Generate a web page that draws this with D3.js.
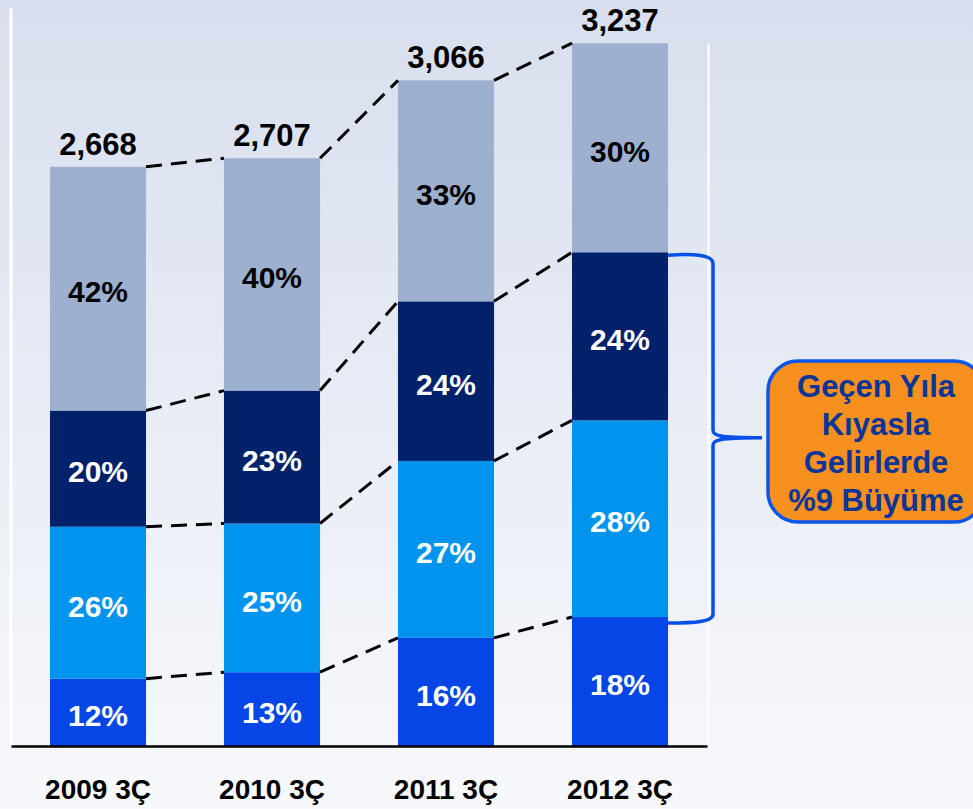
<!DOCTYPE html>
<html>
<head>
<meta charset="utf-8">
<script src="https://cdn.jsdelivr.net/npm/d3@7"></script>
<style>
	body { margin: 0; overflow: hidden; }
	svg { display: block; font-family: 'Liberation Sans', Arial, sans-serif; }
</style>
</head>
<body>
<div class="svg-container"></div>
<script>
const w = 973;
const h = 809;

// values (stack order bottom -> top)
const quarters = ['2009 3Ç', '2010 3Ç', '2011 3Ç', '2012 3Ç'];
const totals = [2668, 2707, 3066, 3237];
const segBlue = [310, 340, 498, 594];
const segLight = [700, 685, 815, 906];
const segNavy = [535, 612, 735, 774];
const segGray = [1123, 1070, 1018, 963];
const calloutLines = ['Geçen Yıla', 'Kıyasla', 'Gelirlerde', '%9 Büyüme'];

const colors = ['#0646e6', '#0094ee', '#01216a', '#9db0cf'];
const labelColors = ['#fff', '#fff', '#fff', '#000'];

const series = [segBlue, segLight, segNavy, segGray];

const svg = d3
	.select('.svg-container')
	.append('svg')
	.attr('width', w)
	.attr('height', h);

// background gradient
const grad = svg
	.append('defs')
	.append('linearGradient')
	.attr('id', 'bg')
	.attr('x1', 0)
	.attr('y1', 0)
	.attr('x2', 0)
	.attr('y2', 1);
grad.append('stop').attr('offset', '0%').attr('stop-color', '#d7dfee');
grad.append('stop').attr('offset', '100%').attr('stop-color', '#f8f9fc');

svg.append('rect').attr('width', w).attr('height', h).attr('fill', 'url(#bg)');

const xScale = d3
	.scaleBand()
	.domain(quarters)
	.range([11, 707])
	.paddingInner(0.448)
	.paddingOuter(0.224);

const yScale = d3.scaleLinear().domain([0, 3436]).range([746, 0]);

// stack rows
const rows = quarters.map((q, i) => {
	let acc = 0;
	return series.map((s, k) => {
		const y0 = acc;
		acc += s[i];
		return {q, k, y0, y1: acc, pct: Math.round((s[i] / totals[i]) * 100)};
	});
});

// white frame lines
svg
	.append('line')
	.attr('x1', 11)
	.attr('x2', 11)
	.attr('y1', 8)
	.attr('y2', 746)
	.attr('stroke', '#fff')
	.attr('stroke-width', 3);
svg
	.append('line')
	.attr('x1', 708.5)
	.attr('x2', 708.5)
	.attr('y1', yScale(totals[3]))
	.attr('y2', 746)
	.attr('stroke', '#fff')
	.attr('stroke-width', 2);

// segments
const segs = rows.flat();
svg
	.selectAll('rect.seg')
	.data(segs)
	.enter()
	.append('rect')
	.attr('class', 'seg')
	.attr('x', d => xScale(d.q))
	.attr('width', xScale.bandwidth())
	.attr('y', d => yScale(d.y1))
	.attr('height', d => yScale(d.y0) - yScale(d.y1))
	.attr('fill', d => colors[d.k]);

// dashed connectors between bars
const connectors = [];
for (let i = 0; i < quarters.length - 1; i++) {
	rows[i].forEach((d, k) => {
		connectors.push({
			x1: xScale(quarters[i]) + xScale.bandwidth(),
			y1: yScale(d.y1),
			x2: xScale(quarters[i + 1]),
			y2: yScale(rows[i + 1][k].y1),
		});
	});
}
svg
	.selectAll('line.conn')
	.data(connectors)
	.enter()
	.append('line')
	.attr('class', 'conn')
	.attr('x1', d => d.x1)
	.attr('y1', d => d.y1)
	.attr('x2', d => d.x2)
	.attr('y2', d => d.y2)
	.attr('stroke', '#000')
	.attr('stroke-width', 3)
	.attr('stroke-dasharray', '16 9');

// percent labels
svg
	.selectAll('text.pct')
	.data(segs)
	.enter()
	.append('text')
	.attr('class', 'pct')
	.attr('x', d => xScale(d.q) + xScale.bandwidth() / 2)
	.attr('y', d => (yScale(d.y0) + yScale(d.y1)) / 2)
	.attr('dy', '0.46em')
	.style('text-anchor', 'middle')
	.style('font-size', '30px')
	.style('font-weight', 'bold')
	.attr('fill', d => labelColors[d.k])
	.text(d => d.pct + '%');

// totals
svg
	.selectAll('text.total')
	.data(totals)
	.enter()
	.append('text')
	.attr('class', 'total')
	.attr('x', (d, i) => xScale(quarters[i]) + xScale.bandwidth() / 2)
	.attr('y', d => yScale(d) - 12)
	.style('text-anchor', 'middle')
	.style('font-size', '31px')
	.style('font-weight', 'bold')
	.attr('fill', '#000')
	.text(d => d3.format(',')(d));

// x axis
const xAxis = d3.axisBottom(xScale).tickSize(0).tickPadding(33);
const gx = svg.append('g').attr('transform', 'translate(0, 746)').call(xAxis);
gx.select('.domain').attr('stroke', '#000').attr('stroke-width', 2.5);
gx
	.selectAll('.tick text')
	.style('font-size', '28px')
	.style('font-weight', 'bold')
	.style('font-family', "'Liberation Sans', Arial, sans-serif")
	.attr('fill', '#000');

// brace around the lower three segments of the last bar
const last = rows[3];
const bx = xScale(quarters[3]) + xScale.bandwidth();
const bTop = yScale(last[2].y1) + 3;
const bBot = yScale(last[0].y1) + 5;
const bMid = (bTop + bBot) / 2 - 1;
svg
	.append('path')
	.attr(
		'd',
		`M${bx},${bTop} C${bx + 27},${bTop - 2} ${bx + 45},${bTop} ${bx + 45},${bTop + 8}` +
			` L${bx + 45},${bMid - 8} C${bx + 45},${bMid - 2} ${bx + 50},${bMid} ${bx + 94},${bMid}` +
			` C${bx + 50},${bMid} ${bx + 45},${bMid + 2} ${bx + 45},${bMid + 8}` +
			` L${bx + 45},${bBot - 8} C${bx + 45},${bBot} ${bx + 27},${bBot + 1} ${bx},${bBot + 1}`
	)
	.attr('fill', 'none')
	.attr('stroke', '#0650e8')
	.attr('stroke-width', 3.5);

// callout box
const callout = svg.append('g').attr('transform', 'translate(768, 361)');
callout
	.append('rect')
	.attr('width', 216)
	.attr('height', 161)
	.attr('rx', 30)
	.attr('fill', '#f7901e')
	.attr('stroke', '#0a55ea')
	.attr('stroke-width', 3.5);
callout
	.selectAll('text')
	.data(calloutLines)
	.enter()
	.append('text')
	.attr('x', 108)
	.attr('y', (d, i) => 36 + i * 38)
	.style('text-anchor', 'middle')
	.style('font-size', '31px')
	.style('font-weight', 'bold')
	.attr('fill', '#0b3596')
	.text(d => d);
</script>
</body>
</html>
